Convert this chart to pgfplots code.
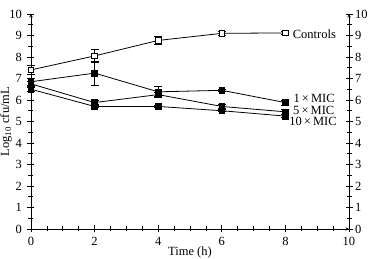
\documentclass[border=0pt]{standalone}
\usepackage{pgfplots}
\pgfplotsset{compat=1.18}
\usepackage{fontspec}
\setmainfont{Liberation Serif}

\pgfplotstableread{
x  y     e
0  7.40  0.20
2  8.05  0.30
4  8.77  0.20
6  9.10  0.07
8  9.12  0.07
}\controls
\pgfplotstableread{
x  y     e
0  6.85  0.15
2  7.25  0.55
4  6.38  0.25
6  6.45  0.05
8  5.88  0.12
}\micone
\pgfplotstableread{
x  y     e
0  6.75  0.10
2  5.88  0.10
4  6.25  0.10
6  5.70  0.08
8  5.45  0.10
}\micfive
\pgfplotstableread{
x  y     e
0  6.50  0.10
2  5.70  0.05
4  5.70  0.05
6  5.50  0.05
8  5.25  0.08
}\micten

\begin{document}
\begin{tikzpicture}[x=1pt,y=1pt]
\useasboundingbox (0,0) rectangle (368,259);
\pgfplotsset{
  common/.style={
    at={(31pt,30pt)}, anchor=south west,
    scale only axis, width=318pt, height=215pt,
    xmin=0, xmax=10, ymin=0, ymax=10,
    tick align=inside,
    major tick length=7pt, minor tick length=5pt,
    tick style={black, line width=0.6pt},
    axis line style={-, line width=0.6pt},
    ticklabel style={font=\fontsize{12.5}{13}\selectfont},
    /pgf/number format/assume math mode=true,
    clip=false,
  },
  series/.style={black, line width=0.8pt, mark=square*,
    mark options={solid, fill=#1, mark size=2.8pt},
    error bars/y dir=both, error bars/y explicit,
    error bars/error bar style={black, line width=0.7pt},
    error bars/error mark options={black, rotate=90, mark size=4pt, line width=0.7pt}},
}
\begin{axis}[common,
  axis x line=bottom, axis y line=left,
  xtick={0,2,...,10}, minor x tick num=3,
  ytick={0,1,...,10}, minor y tick num=1,
  xticklabel style={yshift=-1pt},
  yticklabel style={xshift=-2pt},
  xlabel={Time (h)},
  ylabel={Log\textsubscript{10} cfu/mL},
  label style={font=\fontsize{12.5}{13}\selectfont},
  xlabel style={at={(axis description cs:0.5,-0.107)}, anchor=center},
  ylabel style={at={(axis description cs:-0.078,0.5)}, anchor=center},
]
\addplot[series=black] table[x=x, y=y, y error=e] {\micten};
\addplot[series=black] table[x=x, y=y, y error=e] {\micfive};
\addplot[series=black] table[x=x, y=y, y error=e] {\micone};
\addplot[series=white] table[x=x, y=y, y error=e] {\controls};

\begin{scope}[every node/.style={font=\fontsize{12.5}{13}\selectfont, inner sep=0pt}]
\node[anchor=west] at (axis cs:8.23,9.08) {Controls};
\node[anchor=west] at (axis cs:8.25,6.06) {1\,×\,MIC};
\node[anchor=west] at (axis cs:8.24,5.52) {5\,×\,MIC};
\node[anchor=west] at (axis cs:8.12,5.00) {10\,×\,MIC};
\end{scope}
\end{axis}

\begin{axis}[common,
  axis x line=none, axis y line=right,
  ytick={0,1,...,10}, minor y tick num=1,
  yticklabel style={xshift=-1pt},
]
\end{axis}
\end{tikzpicture}
\end{document}
